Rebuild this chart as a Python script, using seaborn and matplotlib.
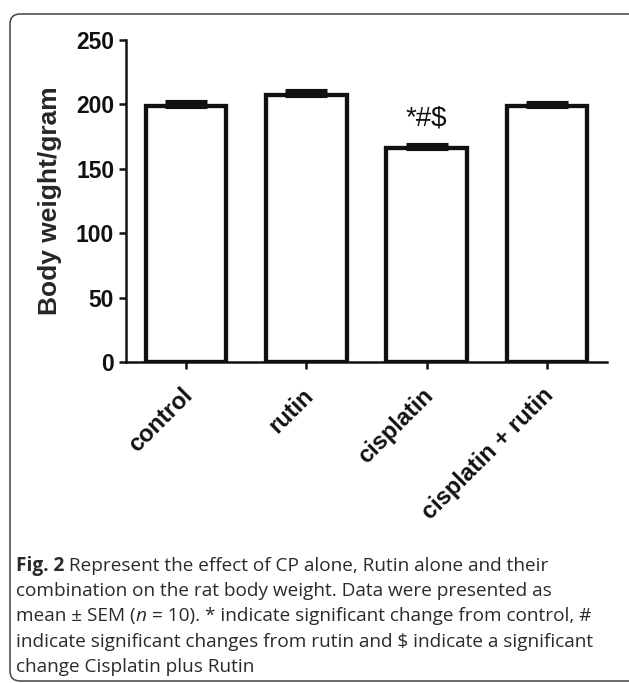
import numpy as np
import pandas as pd
import matplotlib
matplotlib.use("Agg")
import matplotlib.pyplot as plt
import seaborn as sns
from matplotlib.patches import FancyBboxPatch
from matplotlib.transforms import IdentityTransform, ScaledTranslation

# data
groups = ["control", "rutin", "cisplatin", "cisplatin + rutin"]
weight_mean = [198.5, 207.5, 166.5, 198.5]
weight_sem = [3.5, 3, 2.2, 2.5]
sig_marks = ["", "", "*#$", ""]
y_ticks = [0, 50, 100, 150, 200, 250]

caption = [
    [("Fig. 2", "bold"), (" Represent the effect of CP alone, Rutin alone and their", "normal")],
    [("combination on the rat body weight. Data were presented as", "normal")],
    [("mean \u00b1 SEM (", "normal"), ("n", "italic"), (" = 10). * indicate significant change from control, #", "normal")],
    [("indicate significant changes from rutin and $ indicate a significant", "normal")],
    [("change Cisplatin plus Rutin", "normal")],
]

W, H = 629, 683
sns.set_style("ticks")
plt.rcParams["font.family"] = ["Liberation Sans", "DejaVu Sans"]

fig = plt.figure(figsize=(W / 100, H / 100), dpi=100)
ax = fig.add_axes([126 / W, 1 - 362 / H, (607 - 126) / W, (362 - 40) / H])

df = pd.DataFrame({"group": groups, "weight": weight_mean})
sns.barplot(data=df, x="group", y="weight", ax=ax, color="white",
            edgecolor="#111111", linewidth=3.1, width=0.67, errorbar=None)
ax.errorbar(np.arange(len(groups)), weight_mean,
            yerr=[np.zeros(len(groups)), weight_sem], fmt="none",
            ecolor="#111111", elinewidth=3, capsize=15, capthick=3.7, zorder=5)

for i, m in enumerate(sig_marks):
    if m:
        ax.text(i, weight_mean[i] + weight_sem[i] + 20, m, ha="center", va="center",
                fontsize=20, color="#111111")

ax.set_xlim(-0.5, len(groups) - 0.5)
ax.set_ylim(0, 250)
ax.set_yticks(y_ticks)
ax.set_xlabel("")
ax.set_ylabel("Body weight/gram", fontsize=19, fontweight="bold", labelpad=10)
ax.tick_params(width=1.8, length=5, labelsize=16.5, colors="#111111")
for lab in ax.get_yticklabels():
    lab.set_fontweight("bold")
ax.set_xticks(range(len(groups)))
ax.set_xticklabels(groups, rotation=45, ha="right", rotation_mode="anchor",
                   fontweight="bold", fontsize=17)
shift = ScaledTranslation(-0.05, -0.10, fig.dpi_scale_trans)
for lab in ax.get_xticklabels():
    lab.set_transform(lab.get_transform() + shift)
sns.despine(ax=ax)
for s in ["left", "bottom"]:
    ax.spines[s].set_linewidth(1.8)
    ax.spines[s].set_color("#111111")

# rounded frame around the figure panel
frame = FancyBboxPatch((10, 2), 640, H - 16, boxstyle="round,pad=0,rounding_size=10",
                       transform=IdentityTransform(), fill=False,
                       edgecolor="#444444", linewidth=1.1)
fig.patches.append(frame)

# caption with mixed styles
renderer = fig.canvas.get_renderer()
y = 571
for line in caption:
    x = 16
    for txt, style in line:
        t = fig.text(x / W, 1 - y / H, txt, fontsize=13.7, family="Open Sans",
                     fontweight="bold" if style == "bold" else "normal",
                     fontstyle="italic" if style == "italic" else "normal",
                     color="#2a2a2a", va="baseline")
        x += t.get_window_extent(renderer=renderer).width
    y += 25.2

fig.savefig("out.png", dpi=100)
